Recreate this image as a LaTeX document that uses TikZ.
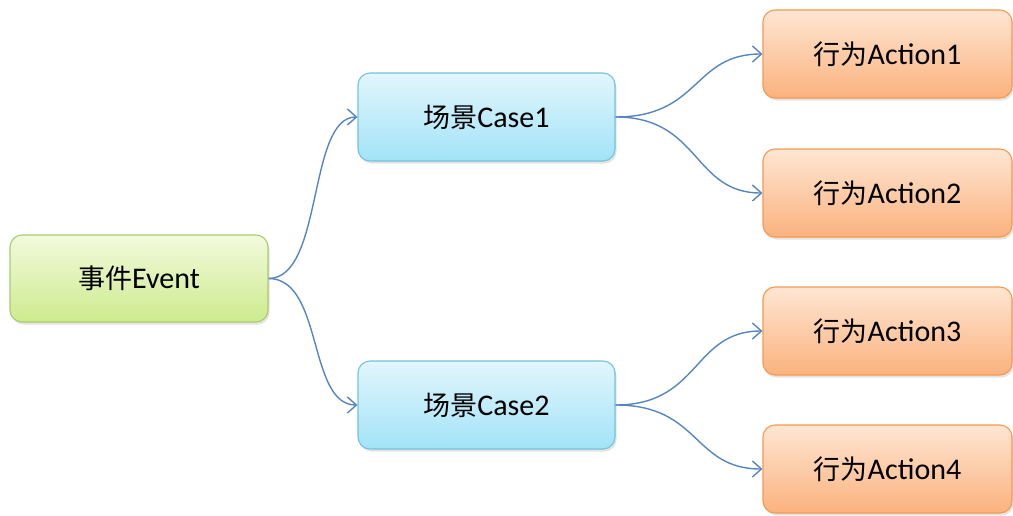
\documentclass[tikz,border=0pt]{standalone}
\usepackage{fontspec}
\setmainfont{Carlito}
\newfontfamily\cjk{Noto Sans CJK SC}[Scale=0.9]
\usetikzlibrary{arrows.meta,shadows}
\definecolor{evtop}{HTML}{F2FADC}
\definecolor{evbot}{HTML}{CDEB8E}
\definecolor{evdraw}{HTML}{A9CC6A}
\definecolor{catop}{HTML}{E2F6FD}
\definecolor{cabot}{HTML}{A2E3F7}
\definecolor{cadraw}{HTML}{72C3DC}
\definecolor{actop}{HTML}{FEE6D3}
\definecolor{acbot}{HTML}{FBB27E}
\definecolor{acdraw}{HTML}{F5994F}
\definecolor{link}{HTML}{5585C2}
\tikzset{
  box/.style={rounded corners=12pt, line width=1.1pt, inner sep=0pt,
    font=\fontsize{30}{34}\selectfont, text=black,
    drop shadow={opacity=0.22, shadow xshift=1.5pt, shadow yshift=-2.5pt}},
  evbox/.style={box, draw=evdraw, top color=evtop, bottom color=evbot,
    minimum width=258pt, minimum height=87pt},
  cabox/.style={box, draw=cadraw, top color=catop, bottom color=cabot,
    minimum width=257pt, minimum height=88pt},
  acbox/.style={box, draw=acdraw, top color=actop, bottom color=acbot,
    minimum width=249pt, minimum height=88pt},
  link/.style={draw=link, line width=1.4pt,
    -{Straight Barb[length=9pt,width=16pt,line width=1.4pt]}}
}
\begin{document}
\begin{tikzpicture}[x=1pt,y=-1pt]
\useasboundingbox (0,0) rectangle (1013,515);
\node[evbox] (ev) at (139,278.5) {{\cjk 事件}Event};
\node[cabox] (c1) at (486.5,117) {{\cjk 场景}Case1};
\node[cabox] (c2) at (486.5,405) {{\cjk 场景}Case2};
\node[acbox] (a1) at (887.5,54) {{\cjk 行为}Action1};
\node[acbox] (a2) at (887.5,193) {{\cjk 行为}Action2};
\node[acbox] (a3) at (887.5,331) {{\cjk 行为}Action3};
\node[acbox] (a4) at (887.5,469) {{\cjk 行为}Action4};
\draw[link] (ev.east) .. controls +(55,0) and +(-50,0) .. (c1.west);
\draw[link] (ev.east) .. controls +(55,0) and +(-50,0) .. (c2.west);
\draw[link] (c1.east) .. controls +(85,0) and +(-70,0) .. (a1.west);
\draw[link] (c1.east) .. controls +(85,0) and +(-70,0) .. (a2.west);
\draw[link] (c2.east) .. controls +(85,0) and +(-70,0) .. (a3.west);
\draw[link] (c2.east) .. controls +(85,0) and +(-70,0) .. (a4.west);
\end{tikzpicture}
\end{document}
